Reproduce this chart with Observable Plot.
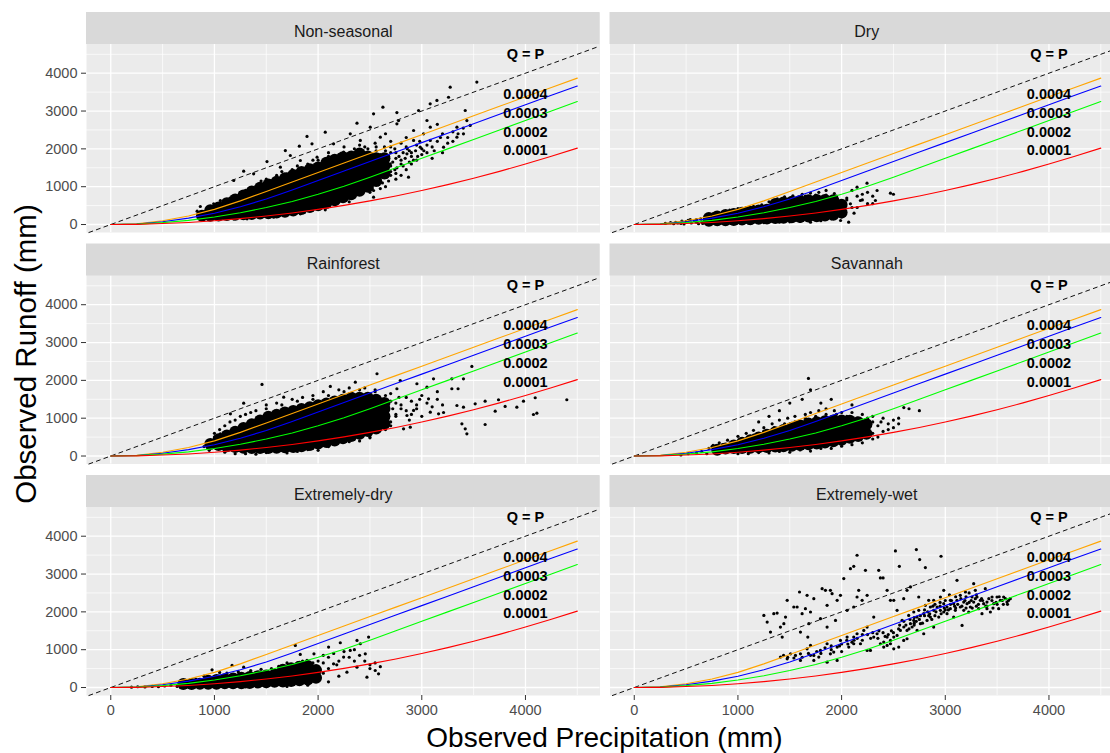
<!DOCTYPE html>
<html>
<head>
<meta charset="utf-8">
<script src="https://cdn.jsdelivr.net/npm/d3@7"></script>
<script src="https://cdn.jsdelivr.net/npm/@observablehq/plot@0.6"></script>
<style>
  body { margin: 0; background: #fff; }
  #wrap { position: relative; width: 1110px; height: 753px; overflow: hidden; background: #fff;
          font-family: "Liberation Sans", Arial, Helvetica, sans-serif; }
  #chart { position: absolute; left: 0; top: 0; width: 1123px; }
  #chart svg { max-width: none !important; }
  .atitle { position: absolute; line-height: 28px; color: #000; white-space: nowrap; }
  #xtitle { left: 0; width: 1209px; text-align: center; top: 724px; font-size: 28px; }
  #ytitle { left: 26px; top: 354px; font-size: 29.5px; transform: translate(-50%, -50%) rotate(-90deg); }
</style>
</head>
<body>
<div id="wrap">
  <div id="chart"></div>
  <div id="xtitle" class="atitle">Observed Precipitation (mm)</div>
  <div id="ytitle" class="atitle">Observed Runoff (mm)</div>
</div>
<script>
// ---------- facets ----------
const panels = ["Non-seasonal", "Dry", "Rainforest", "Savannah", "Extremely-dry", "Extremely-wet"];
const panelCol = [0, 1, 0, 1, 0, 1];
const panelRow = [0, 0, 1, 1, 2, 2];

// ---------- ticks ----------
const xMajor = [0, 1000, 2000, 3000, 4000];
const xMinor = [500, 1500, 2500, 3500, 4500];
const yMajor = [0, 1000, 2000, 3000, 4000];
const yMinor = [500, 1500, 2500, 3500, 4500];

// ---------- reference curves ----------
const curveP = [0, 250, 500, 750, 1000, 1250, 1500, 1750, 2000, 2250, 2500, 2750, 3000, 3250, 3500, 3750, 4000, 4250, 4500];
const q0004 = [0, 20, 100, 225, 400, 625, 875, 1125, 1375, 1625, 1875, 2125, 2375, 2625, 2875, 3125, 3375, 3625, 3870];
const q0003 = [0, 15, 75, 170, 300, 470, 675, 915, 1165, 1415, 1665, 1915, 2165, 2415, 2665, 2915, 3165, 3415, 3660];
const q0002 = [0, 10, 50, 110, 200, 310, 450, 610, 800, 1010, 1250, 1500, 1750, 2000, 2250, 2500, 2750, 3000, 3250];
const q0001 = [0, 5, 25, 55, 100, 155, 225, 305, 400, 505, 625, 755, 900, 1055, 1225, 1405, 1600, 1805, 2020];
const curveLabels = ["0.0004", "0.0003", "0.0002", "0.0001"];
const curveLabelQ = [3450, 2950, 2440, 1960];
const labelP = 4000;
const qpLabel = "Q = P";
const qpLabelQ = 4510;
const qpLine = [-211, 4718];

// ---------- observed points: dense cores [P, [Q...]] and scattered [P,Q,...] ----------
const nsCore = [
  [880,[230]],[960,[230,380]],[1040,[240,450]],[1120,[250,420,560]],[1200,[260,460,660]],
  [1280,[270,470,670,770]],[1360,[280,480,680,870]],[1440,[290,490,690,890,970]],
  [1520,[300,500,700,900,1060]],[1600,[320,520,720,920,1130]],[1680,[340,540,740,940,1140,1220]],
  [1760,[370,570,770,970,1170,1310]],[1840,[410,610,810,1010,1210,1390]],[1920,[460,660,860,1060,1260,1460]],
  [2000,[510,710,910,1110,1310,1510]],[2080,[570,770,970,1170,1370,1570,1630]],
  [2160,[640,840,1040,1240,1440,1640,1710]],[2240,[720,920,1120,1320,1520,1720,1780]],
  [2320,[800,1000,1200,1400,1600,1800]],[2400,[890,1090,1290,1490,1690,1880]],
  [2480,[1000,1200,1400,1600,1800]],[2560,[1150,1350,1550,1750]],[2640,[1350,1550,1750]]
];
const nsPts = [
  833,352, 1057,634, 1282,1410, 1507,1665, 1684,1956, 1732,1825, 1819,2071, 1893,2328, 2069,2442, 1941,2133,
  2149,2133, 2375,2678, 2535,2926, 2625,3101, 2760,2960, 2776,2749, 2969,3014, 3081,3190, 3146,3280, 3274,3630,
  3258,3365, 3531,3765, 3419,3014, 3467,2619, 3402,2398, 3339,2310, 3210,2045, 3082,2222, 2985,2045, 2857,1869,
  2872,1252, 2696,1605, 2535,899, 2600,1164, 2439,987, 2279,811, 2149,635, 2535,722,
  2310,2398, 2503,2573, 2760,2662, 2921,2486, 2407,2222, 2600,2310, 2246,1912, 2921,2222, 3017,2398, 3082,2573,
  3339,2573, 3435,2749, 1057,193, 1315,150, 1829,283, 2069,389, 1186,150, 1571,193, 864,476, 993,547, 945,283,
  1186,1164, 1378,1340, 1443,1031, 1636,1516, 1700,1340, 1829,1693, 1990,1781,
  2700,1400, 2750,1750, 2820,1550, 2880,1950, 2950,1700, 3000,1850, 3050,2100, 3120,1950, 3180,2300, 3250,2150,
  3300,2450, 3150,2650, 3050,2750, 2650,2400, 2700,2200, 2850,2300, 2550,2150, 2450,2050, 2350,2000, 2200,1850,
  2100,1800, 2000,1700, 1900,1600, 1750,1450, 1600,1300, 1450,1150, 1300,900, 1150,700, 1000,500, 2650,1000,
  2750,1200, 2800,1300, 2400,800, 2300,700, 2200,600, 3100,1750, 3200,1900,
  2650,1950, 2700,2050, 2750,1900, 2800,2150, 2850,2050, 2900,1800, 2950,2100, 3000,2000, 3050,1900, 3100,2050,
  3150,2200, 3200,2400, 3250,2300, 3300,2200, 3350,2400, 3400,2550, 2600,1500, 2650,1700, 2700,1550, 2750,1350,
  2800,1700, 2850,1450, 2900,1600, 2600,1250, 2680,1150, 1500,1200, 1650,1400, 1800,1550, 1950,1700, 2100,1900,
  2250,2050, 2400,2100, 900,350, 1000,350, 1100,650, 1250,850, 1400,1000, 1550,1150, 1300,180, 1500,220,
  1700,280, 1900,380, 2100,480, 2300,600, 2500,850, 2600,950,
  2560,1950, 2600,1850, 2640,2050, 2680,1800, 2700,1900, 2720,1650, 2740,2000, 2760,1500, 2780,1800, 2800,1600,
  2820,1900, 2840,1750, 2860,2000, 2880,1650, 2900,1900, 2920,1700, 2940,1950, 2960,1800, 2980,2200, 3020,1950,
  2700,1300, 2740,1450, 2580,1050, 2620,1100, 2660,1250, 2520,950, 2460,900, 2560,2050, 2480,2000, 2380,1950
];
const dryCore = [
  [720,[100,170]],[800,[110,210]],[880,[115,250]],[960,[120,280]],
  [1040,[130,310]],[1120,[140,340]],[1200,[150,370]],[1280,[160,390]],[1360,[170,400,540]],
  [1440,[180,400,580]],[1520,[190,410,600]],[1600,[200,420,620]],[1680,[210,430,640]],
  [1760,[220,440,650]],[1840,[240,450,650]],[1920,[260,470,640]],[2000,[320,520]]
];
const dryPts = [
  300,30, 350,50, 420,40, 460,90, 520,110, 600,60, 640,150, 700,40, 760,280, 850,320, 920,380, 1000,420,
  1080,450, 1150,480, 1230,520, 1300,600, 1380,680, 1450,730, 1530,760, 1620,800, 1700,830, 1780,850,
  1850,900, 1930,820, 1990,106, 1893,283, 2068,61, 2085,547, 2149,987, 2181,635, 2245,1093, 2342,899,
  2326,635, 2471,829, 2500,800, 2200,800, 2100,900, 2050,700, 2150,450, 2250,550, 2300,750, 1700,60,
  1600,80, 1500,70, 1400,60, 1800,100, 1900,150, 1250,50, 1100,40, 2000,200, 2120,300,
  2050,650, 2100,450, 2150,750, 2200,650, 2250,850, 2300,550, 1950,750, 1850,780, 1750,780, 1650,750,
  1550,700, 1450,650, 1350,580, 1250,480, 1150,420, 1050,370, 950,330, 850,280,
  380,20, 400,60, 450,30, 500,80, 550,40, 580,100, 620,20, 650,70, 680,120, 540,130, 480,15, 600,130,
  660,30, 700,150, 740,60, 780,30
];
const rfCore = [
  [960,[320]],[1040,[290,440]],[1120,[260,440,540]],[1200,[240,440,640]],[1280,[220,420,620,740]],
  [1360,[210,410,610,840]],[1440,[210,410,610,810,940]],[1520,[210,410,610,810,1040]],
  [1600,[220,420,620,820,1000,1090]],[1680,[230,430,630,830,1030,1150]],[1760,[240,440,640,840,1040,1190]],
  [1840,[260,460,660,860,1060,1240]],[1920,[290,490,690,890,1090,1290]],[2000,[330,530,730,930,1130,1340]],
  [2080,[370,570,770,970,1170,1390]],[2160,[410,610,810,1010,1210,1440]],[2240,[470,670,870,1070,1270,1490]],
  [2320,[530,730,930,1130,1330,1540]],[2400,[590,790,990,1190,1390,1540]],[2480,[660,860,1060,1260,1460,1540]],
  [2560,[730,930,1130,1330,1490]],[2640,[850,1050,1250,1400]]
];
const rfPts = [
  3113,2042, 3290,2042, 3402,2042, 3483,2368, 3290,1778, 3350,1778, 3065,1513, 3339,1336, 3402,1291, 3515,1381,
  3611,1450, 3740,1487, 3804,1310, 3708,1185, 3917,1291, 3981,1450, 4094,1540, 4077,1098, 4110,1132, 4399,1487,
  3611,833, 3387,851, 3419,719, 3435,587, 3082,1159, 3162,1116, 3210,1150, 2857,1071, 2889,762, 2824,719,
  2921,1204, 2953,1910, 3050,1820, 2760,1778, 2568,2175, 2359,1953, 2118,1839, 1668,1556, 1459,1892, 1282,1397,
  1154,1116, 1057,587, 977,410, 2792,1997, 2664,1026, 2310,497, 2182,339,
  900,250, 950,150, 1000,600, 1100,800, 1200,950, 1300,1100, 1400,1200, 1500,1350, 1600,1400, 1750,1500,
  1850,1550, 1950,1600, 2050,1700, 2200,1750, 2300,1800, 2450,1800, 2550,1750, 2700,1650, 2750,1400, 2800,1250,
  2850,1550, 2700,900, 2750,1100, 2600,800, 2500,500, 2400,400, 2000,150, 1800,120, 1700,80, 1400,50,
  1200,60, 2950,1350, 3000,1600, 2900,1450, 3150,1700,
  2650,1600, 2700,1450, 2720,1250, 2750,1050, 2780,1550, 2800,1350, 2850,1200, 2880,950, 2900,1100, 2950,1250,
  2980,1500, 3000,1050, 3050,1400, 3100,1300, 3150,1500, 3200,1350, 2700,800, 2650,700, 1000,500, 1050,700,
  1150,900, 1250,1050, 1350,1150, 1500,1250, 1650,1350, 1800,1450, 1950,1500, 2100,1600, 2250,1700, 2400,1750,
  2550,1700, 1100,100, 1300,60, 1500,90, 1700,130, 1900,170, 2100,250, 2300,380, 2500,480
];
const svCore = [
  [800,[165]],[880,[200]],[960,[210,280]],[1040,[210,350]],[1120,[220,420]],[1200,[230,430,490]],
  [1280,[240,440,560]],[1360,[250,450,630]],[1440,[260,460,690]],[1520,[270,470,670,750]],
  [1600,[290,490,690,810]],[1680,[310,510,710,860]],[1760,[330,530,730,890]],[1840,[360,560,760,920]],
  [1920,[390,590,790,940]],[2000,[430,630,830,940]],[2080,[480,680,930]],[2160,[530,730,890]],[2240,[590,840]]
];
const svPts = [
  450,30, 520,60, 600,80, 650,120, 700,60, 720,200, 760,280, 820,350, 900,420, 1000,520, 1080,600, 1150,680,
  1250,750, 1330,850, 1400,950, 1480,1000, 1550,1050, 1650,1100, 1700,1150, 1780,1200, 1850,1250, 1930,1200,
  2000,1150, 2100,1150, 2200,1100, 2300,1050, 2380,900, 2450,850, 2500,750, 2550,1000, 2600,1280, 2650,1250,
  2750,1200, 2400,650, 2350,500, 2300,450, 1680,2050, 1700,1750, 1620,1500, 1500,1400, 1900,1500, 1800,1400,
  2100,1350, 1400,1200, 1300,1050, 1200,900, 1100,60, 1300,80, 1500,100, 1700,130, 1900,200, 2100,300, 2200,350,
  2250,1000, 2300,900, 2350,800, 2400,1000, 2450,700, 2500,950, 2550,850, 2300,600, 2250,500, 750,250,
  850,300, 950,380, 1050,450, 1150,550, 1250,650, 1350,750, 1450,850, 1550,900, 1650,1000, 1750,1050,
  1850,1100, 1950,1100, 2050,1050, 2150,1000, 1000,60, 1200,90, 1400,120, 1600,160, 1800,200, 2000,260
];
const edCore = [
  [700,[90]],[780,[90]],[860,[100]],[940,[100,180]],[1020,[100,200]],[1100,[110,220]],[1180,[110,240]],
  [1260,[110,260]],[1340,[120,280]],[1420,[130,300]],[1500,[140,320]],[1580,[150,340]],[1660,[160,350,470]],
  [1740,[170,370,510]],[1820,[190,390,550]],[1900,[210,410,570]],[1980,[260,460]]
];
const edPts = [
  200,10, 260,20, 330,15, 400,30, 460,20, 520,40, 580,60, 640,30, 680,120, 760,160, 820,220, 900,300, 977,468,
  1170,583, 1282,539, 1050,400, 1120,380, 1230,420, 1350,450, 1450,480, 1550,500, 1620,560, 1700,650, 1780,1113,
  1828,874, 1893,715, 1960,892, 2000,700, 2101,1068, 2149,627, 2214,1183, 2246,804, 2310,980, 2375,1245,
  2407,1157, 2455,892, 2487,1333, 2375,539, 2471,274, 2551,450, 2583,362, 2278,406, 2200,300, 2100,500,
  2050,380, 2180,600, 2350,700, 2500,600, 2600,550, 2050,850, 1950,650, 1850,600, 1700,30, 1500,20, 1300,15,
  1900,60, 2100,150,
  2000,550, 2050,650, 2100,800, 2150,900, 2200,700, 2250,950, 2300,800, 2350,1000, 2400,850, 2450,700,
  2500,500, 2550,650, 1950,500, 1900,650, 1850,700, 1800,650, 1750,600, 1700,550, 1650,500, 1600,450,
  1500,400, 1400,380, 1300,350, 1200,330, 1100,300, 1000,270, 900,220, 800,150
];
const ewPts = [
  1250,1907, 1282,1731, 1346,1951, 1378,1969, 1443,1687, 1459,1863, 1475,2305, 1539,2128, 1571,2128, 1594,2525,
  1619,1951, 1651,2084, 1667,2437, 1684,1687, 1700,1996, 1732,2349, 1796,1819, 1812,2614, 1844,2570, 1860,2172,
  1892,2570, 1908,2481, 1989,2437, 2021,2879, 2085,3143, 2117,3205, 2149,3497, 2165,2570, 2149,2393, 2230,3099,
  2358,3099, 2374,2896, 2400,2896, 2519,3611, 2557,3205, 2721,3647, 2753,3382, 2808,3170, 2959,3470, 3113,2834,
  2198,2305, 2246,2437, 1314,1466, 1410,1598, 1427,1333, 1674,1333, 1700,1113, 1860,1598, 1941,1775, 2053,2040,
  2117,2128, 2310,1863, 2471,2305, 2503,2305, 2535,2040, 2631,2570, 2664,2658, 2744,2393, 2840,2305, 2985,2570,
  1603,1466, 1957,2305, 2439,2570, 2599,2349,
  1410,804, 1475,759, 1507,892, 1555,848, 1603,892, 1667,1024, 1732,848, 1796,980, 1860,1157, 1892,892,
  1924,936, 1957,1068, 1989,1245, 2053,1333, 2117,1333, 2149,1422, 2182,1157, 2214,1510, 2246,1598, 2278,980,
  2310,1333, 2342,1422, 2374,1157, 2406,1201, 2439,1113, 2471,1245, 2503,1333, 2535,1377, 2567,1510, 2599,1245,
  2631,1510, 2664,1687, 2696,1775, 2728,1863, 2760,1687, 2792,1951, 2824,1775, 2856,1863, 2888,2040, 2921,2128,
  2953,2040, 2985,2216, 3017,2128, 3049,2084, 3081,2216, 3113,2305, 3145,2128, 3178,2040, 3210,2216, 3242,2128,
  3274,2260, 3306,2393, 3338,2305, 3370,2216, 3402,2084, 3435,1996, 3467,2216, 3499,2393, 3531,2305, 3563,2393,
  3595,2260, 3627,2349, 3354,1951, 3290,2570, 3386,2614, 3274,2746, 3162,1642, 2888,1598, 2792,1422, 2728,1510,
  2631,1289, 2551,1068, 2471,1157, 2439,1333, 2406,1068, 2503,1024, 2246,980, 2117,1157, 2069,1068, 1957,715,
  1860,671, 1780,804, 1732,715, 1603,715,
  2985,1996, 3049,2305, 3097,2040, 3178,2260, 3226,1996, 3258,2393, 3322,2084, 3402,2260, 3451,2393, 3515,2084,
  2937,1863, 3017,1951, 3081,1863, 2856,2128, 2888,2305, 2953,2393, 2808,2172, 2744,2040, 2696,1996, 2647,1907,
  2583,1775, 3194,2526, 3145,2437,
  2000,1150, 2050,1250, 2100,1200, 2150,1300, 2200,1250, 2250,1400, 2300,1450, 2350,1300, 2400,1450, 2450,1400,
  2500,1450, 2550,1550, 2600,1600, 2650,1550, 2700,1700, 2750,1800, 2800,1900, 2850,1950, 2900,1900, 2950,2150,
  3000,2300, 3050,2200, 3100,2100, 3150,2350, 3200,2100, 3250,2300, 3300,2150, 3350,2350, 3400,2150, 3450,2300,
  3500,2200, 3550,2300, 3600,2200, 3300,2450, 3200,2400, 3000,2050, 2900,2200, 2800,2050, 2700,1850, 2600,1750,
  1700,850, 1800,900, 1900,1000, 2000,950,
  2620,1650, 2680,1600, 2720,1750, 2780,1700, 2840,1900, 2870,1800, 2910,2000, 2960,1950, 2990,2100, 3030,2050,
  3060,2300, 3090,2150, 3120,2200, 3160,2150, 3190,2300, 3230,2250, 3260,2100, 3290,2350, 3320,2200, 3360,2300,
  3390,2150, 3420,2350, 3460,2100, 3490,2250, 3520,2400, 3560,2200, 3580,2350, 3610,2300, 3040,2450, 3100,2400,
  3230,2500, 2950,2250, 2880,2150, 2830,2000, 2760,1900, 2700,1650, 2660,1800, 2560,1650, 2480,1500, 2420,1350,
  2360,1500, 2280,1300, 2200,1400, 2120,1250, 2060,1150, 1980,1100, 1900,1100, 1840,1050, 1760,950, 1680,900,
  1620,800, 1540,780, 1480,800, 1440,850
];
const ewCore = [];

// ---------- assemble ----------
const coreByPanel = [nsCore, dryCore, rfCore, svCore, edCore, ewCore];
const ptsByPanel = [nsPts, dryPts, rfPts, svPts, edPts, ewPts];
const core = [], scatter = [];
panels.forEach((name, k) => {
  for (const [P, qs] of coreByPanel[k]) for (const Q of qs) core.push({col: panelCol[k], row: panelRow[k], P, Q});
  const f = ptsByPanel[k];
  for (let i = 0; i < f.length; i += 2) scatter.push({col: panelCol[k], row: panelRow[k], P: f[i], Q: f[i + 1]});
});
const strips = panels.map((name, k) => ({name, col: panelCol[k], row: panelRow[k]}));
const curves = [q0004, q0003, q0002, q0001];
const curveColors = ["#FFA500", "#0000FF", "#00FF00", "#FF0000"];

// ---------- layout (pixels -> domain) ----------
const X_DOM = [-234, 4719];
const Y_PANEL = [-211, 4759];
const STRIP_PX = 32, PANEL_PX = 188;
const Y_TOP = Y_PANEL[1] + STRIP_PX * (Y_PANEL[1] - Y_PANEL[0]) / PANEL_PX;

const curveMarks = curves.map((q, j) =>
  Plot.line(curveP, {x: d => d, y: (d, i) => q[i], stroke: curveColors[j], strokeWidth: 1.1}));

const chart = Plot.plot({
  width: 1123, height: 753,
  marginLeft: 86, marginRight: 0, marginTop: 12, marginBottom: 58,
  x: {domain: X_DOM},
  y: {domain: [Y_PANEL[0], Y_TOP]},
  fx: {domain: [0, 1], paddingInner: 10 / 523.5, paddingOuter: 0, round: false, axis: null},
  fy: {domain: [0, 1, 2], paddingInner: 11.5 / 231.5, paddingOuter: 0, round: false, axis: null},
  style: {fontFamily: '"Liberation Sans", Arial, Helvetica, sans-serif', fontSize: "14.5px", background: "white", overflow: "visible", maxWidth: "none"},
  marks: [
    Plot.frame({fill: "#EBEBEB", stroke: "none"}),
    Plot.ruleX(xMinor, {y1: Y_PANEL[0], y2: Y_PANEL[1], stroke: "white", strokeWidth: 0.7}),
    Plot.ruleY(yMinor, {stroke: "white", strokeWidth: 0.7}),
    Plot.ruleX(xMajor, {y1: Y_PANEL[0], y2: Y_PANEL[1], stroke: "white", strokeWidth: 1.3}),
    Plot.ruleY(yMajor, {stroke: "white", strokeWidth: 1.3}),
    Plot.rect([0], {x1: X_DOM[0], x2: X_DOM[1], y1: Y_PANEL[1], y2: Y_TOP, fill: "#D9D9D9"}),
    Plot.text(strips, {fx: "col", fy: "row", frameAnchor: "top", lineAnchor: "middle", dy: 19.5, text: "name", fontSize: 16, fill: "#1A1A1A"}),
    Plot.dot(core, {fx: "col", fy: "row", x: "P", y: "Q", r: 6, fill: "black", stroke: "none"}),
    Plot.dot(scatter, {fx: "col", fy: "row", x: "P", y: "Q", r: 1.6, fill: "black", stroke: "none"}),
    Plot.line(qpLine, {x: d => d, y: d => d, stroke: "#111", strokeWidth: 1, strokeDasharray: "4,4"}),
    ...curveMarks,
    Plot.text([qpLabel], {x: labelP, y: qpLabelQ, text: d => d, fontWeight: "bold", fontSize: 14.5, fill: "black"}),
    Plot.text(curveLabels, {x: labelP, y: (d, i) => curveLabelQ[i], text: d => d, fontWeight: "bold", fontSize: 14.5, fill: "black"}),
    Plot.axisX({ticks: xMajor, tickSize: 5, tickPadding: 4, tickFormat: d => String(d), label: null, stroke: "#333333", fill: "#4D4D4D", fontSize: 14.5}),
    Plot.axisY({ticks: yMajor, tickSize: 5, tickPadding: 4, tickFormat: d => String(d), label: null, stroke: "#333333", fill: "#4D4D4D", fontSize: 14.5})
  ]
});
chart.style.maxWidth = "none";
document.getElementById("chart").appendChild(chart);
</script>
</body>
</html>
